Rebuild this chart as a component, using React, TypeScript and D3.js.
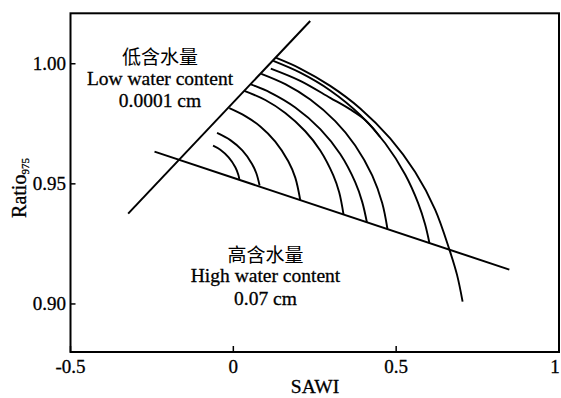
import React from "react";
import * as d3 from "d3";

// Axis ticks
const xTicks = [-0.5, 0, 0.5, 1];
const xTickLabels = ["-0.5", "0", "0.5", "1"];
const yTicks = [0.9, 0.95, 1.0];
const yTickLabels = ["0.90", "0.95", "1.00"];

// Boundary lines [SAWI, Ratio975]
const dryEdge = [[-0.323, 0.9376], [0.236, 1.0178]];
const wetEdge = [[-0.242, 0.9634], [0.8475, 0.9143]];

// Iso-moisture arcs [SAWI, Ratio975]
const arc1 = [[-0.0623, 0.9659], [-0.0399, 0.9642], [-0.0144, 0.961], [0.0061, 0.9569], [0.0153, 0.9538], [0.0184, 0.952]];
const arc2 = [[-0.05, 0.9712], [-0.0092, 0.9682], [0.0276, 0.9639], [0.0574, 0.9583], [0.0706, 0.9544], [0.0807, 0.9493]];
const arc3 = [[-0.0123, 0.9815], [0.0368, 0.9782], [0.0828, 0.9739], [0.1288, 0.9676], [0.1687, 0.9594], [0.1902, 0.9526], [0.2055, 0.9432]];
const arc4 = [[0.0337, 0.9887], [0.0982, 0.9849], [0.1595, 0.9795], [0.2209, 0.9719], [0.2669, 0.9639], [0.3067, 0.9536], [0.3252, 0.9464], [0.3383, 0.9373]];
const arc5 = [[0.0537, 0.9914], [0.1135, 0.988], [0.1902, 0.9818], [0.2669, 0.9728], [0.3282, 0.9624], [0.3742, 0.9507], [0.3957, 0.9425], [0.4101, 0.934]];
const arc6 = [[0.0859, 0.9958], [0.1595, 0.9915], [0.2362, 0.9851], [0.3129, 0.9761], [0.3742, 0.966], [0.4264, 0.9535], [0.4571, 0.942], [0.4733, 0.9312]];
const arc7 = [[0.1227, 1.0012], [0.2055, 0.9963], [0.2975, 0.9889], [0.3896, 0.9787], [0.4663, 0.9669], [0.5276, 0.9539], [0.5675, 0.942], [0.589, 0.9331], [0.6021, 0.9254]];
const arc8 = [[0.115, 0.998], [0.2055, 0.9929], [0.2975, 0.9858], [0.3589, 0.981], [0.4049, 0.9766], [0.4509, 0.9695]];
const arc9 = [[0.1319, 1.0024], [0.2055, 0.998], [0.2975, 0.9908], [0.3896, 0.9814], [0.4816, 0.9689], [0.5583, 0.9549], [0.6196, 0.9393], [0.6635, 0.9226], [0.6871, 0.912], [0.704, 0.901]];

const arcs = [arc1, arc2, arc3, arc4, arc5, arc6, arc7, arc8, arc9];

const serif = "'Liberation Serif', 'Times New Roman', 'DejaVu Serif', serif";
const cjk = "'Noto Sans CJK SC', 'Noto Sans CJK JP', sans-serif";
const ink = { fill: "#000", stroke: "#000", strokeWidth: 0.3 };

export default function App() {
  const left = 70.5, right = 559, top = 13.3, bottom = 352;
  const x = d3.scaleLinear().domain([-0.5, 1]).range([left, right]);
  const y = d3.scaleLinear().domain([0.88, 1.021]).range([bottom, top]);
  const smooth = d3
    .line<number[]>()
    .x((d) => x(d[0]))
    .y((d) => y(d[1]))
    .curve(d3.curveCatmullRom.alpha(0.5));
  const straight = d3
    .line<number[]>()
    .x((d) => x(d[0]))
    .y((d) => y(d[1]));

  return (
    <svg
      width={561}
      height={398}
      viewBox="0 0 561 398"
      style={{ position: "absolute", left: 0, top: 0, background: "#fff" }}
    >
      <rect x={0} y={0} width={561} height={398} fill="#fff" />
      {/* frame */}
      <rect x={left} y={top} width={right - left} height={bottom - top} fill="none" stroke="#000" strokeWidth={2} />
      {/* x ticks */}
      {xTicks.map((t, i) => (
        <g key={"xt" + i}>
          <line x1={x(t)} x2={x(t)} y1={bottom} y2={bottom - 6} stroke="#000" strokeWidth={1.5} />
          <text
            x={i === xTicks.length - 1 ? 555 : x(t)}
            y={373}
            textAnchor="middle"
            fontFamily={serif}
            fontSize={19}
            {...ink}
          >
            {xTickLabels[i]}
          </text>
        </g>
      ))}
      {/* y ticks */}
      {yTicks.map((t, i) => (
        <g key={"yt" + i}>
          <line x1={left} x2={left + 5} y1={y(t)} y2={y(t)} stroke="#000" strokeWidth={1.5} />
          <text x={66} y={y(t) + 6.5} textAnchor="end" fontFamily={serif} fontSize={19} {...ink}>
            {yTickLabels[i]}
          </text>
        </g>
      ))}
      {/* axis titles */}
      <text x={315} y={393} textAnchor="middle" fontFamily={serif} fontSize={19.5} {...ink}>
        SAWI
      </text>
      <text transform="translate(26,188) rotate(-90)" textAnchor="middle" fontFamily={serif} fontSize={20} {...ink}>
        Ratio
        <tspan fontSize={11} dy={3}>975</tspan>
      </text>

      {/* boundary lines */}
      <path d={straight(dryEdge) || ""} fill="none" stroke="#000" strokeWidth={2} />
      <path d={straight(wetEdge) || ""} fill="none" stroke="#000" strokeWidth={2} />
      {/* arcs */}
      {arcs.map((a, i) => (
        <path key={"arc" + i} d={smooth(a) || ""} fill="none" stroke="#000" strokeWidth={1.9} />
      ))}

      {/* annotations */}
      <text x={160} y={63.5} textAnchor="middle" fontFamily={cjk} fontSize={19} fill="#000">
        低含水量
      </text>
      <text x={160} y={85} textAnchor="middle" fontFamily={serif} fontSize={19.5} {...ink}>
        Low water content
      </text>
      <text x={160} y={106.5} textAnchor="middle" fontFamily={serif} fontSize={19.5} {...ink}>
        0.0001 cm
      </text>
      <text x={265.5} y={261.5} textAnchor="middle" fontFamily={cjk} fontSize={19} fill="#000">
        高含水量
      </text>
      <text x={265.5} y={282} textAnchor="middle" fontFamily={serif} fontSize={19.5} {...ink}>
        High water content
      </text>
      <text x={265.5} y={304.5} textAnchor="middle" fontFamily={serif} fontSize={19.5} {...ink}>
        0.07 cm
      </text>
    </svg>
  );
}
